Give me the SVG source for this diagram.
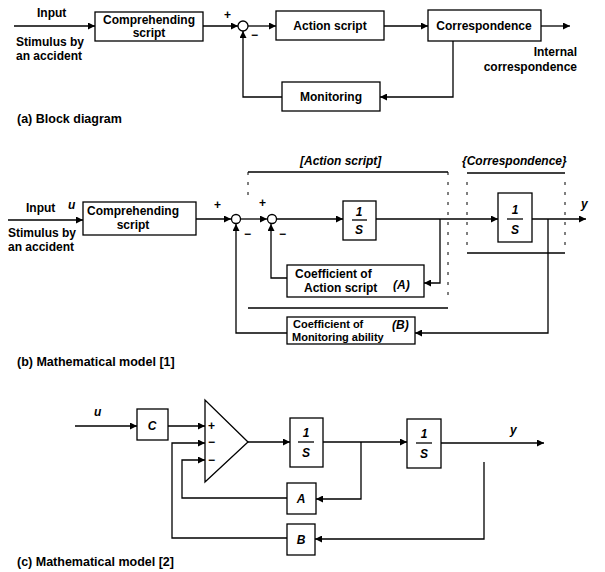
<svg xmlns="http://www.w3.org/2000/svg" width="605" height="572" viewBox="0 0 605 572">
  <defs>
    <marker id="arr" viewBox="0 0 10 10" refX="10" refY="5" markerWidth="9" markerHeight="7" markerUnits="userSpaceOnUse" orient="auto">
      <path d="M0,0 L10,5 L0,10 Z" fill="#000"/>
    </marker>
    <style>
      text { font-family: "Liberation Sans", Arial, sans-serif; font-weight: bold; fill: #000; }
      .t { font-size: 12px; }
      .s { font-size: 11px; }
      .cap { font-size: 12.5px; }
      .it { font-style: italic; }
      .box { fill: #fff; stroke: #000; stroke-width: 1.3; }
      .ln { fill: none; stroke: #000; stroke-width: 1.3; }
      .dash { fill: none; stroke: #000; stroke-width: 1; stroke-dasharray: 3 7; }
      .sum { fill: #fff; stroke: #000; stroke-width: 1.3; }
    </style>
  </defs>

  <!-- ===== (a) block diagram ===== -->
  <g id="a-labels">
    <text class="t" x="37" y="17">Input</text>
    <text class="t" x="16" y="46">Stimulus by</text>
    <text class="t" x="16" y="60">an accident</text>
    <text class="t" x="224" y="19">+</text>
    <text class="t" x="251" y="39">−</text>
    <text class="t" x="577" y="56" text-anchor="end">Internal</text>
    <text class="t" x="577" y="71" text-anchor="end">correspondence</text>
    <text class="cap" x="17" y="123">(a) Block diagram</text>
  </g>
  <g id="a-comprehending">
    <rect class="box" x="95" y="12" width="108" height="29"/>
    <text class="t" x="149" y="24" text-anchor="middle">Comprehending</text>
    <text class="t" x="149" y="37" text-anchor="middle">script</text>
  </g>
  <g id="a-sum">
    <circle class="sum" cx="243" cy="26" r="5"/>
  </g>
  <g id="a-action">
    <rect class="box" x="276" y="11" width="108" height="29"/>
    <text class="t" x="330" y="30" text-anchor="middle">Action script</text>
  </g>
  <g id="a-correspondence">
    <rect class="box" x="428" y="10" width="113" height="31"/>
    <text class="t" x="484" y="30" text-anchor="middle">Correspondence</text>
  </g>
  <g id="a-monitoring">
    <rect class="box" x="282" y="82" width="98" height="29"/>
    <text class="t" x="331" y="101" text-anchor="middle">Monitoring</text>
  </g>
  <g id="a-connectors">
    <line class="ln" x1="14" y1="26" x2="95" y2="26" marker-end="url(#arr)"/>
    <line class="ln" x1="203" y1="26" x2="238" y2="26" marker-end="url(#arr)"/>
    <line class="ln" x1="248" y1="26" x2="276" y2="26" marker-end="url(#arr)"/>
    <line class="ln" x1="384" y1="26" x2="428" y2="26" marker-end="url(#arr)"/>
    <line class="ln" x1="541" y1="26" x2="570" y2="26" marker-end="url(#arr)"/>
    <polyline class="ln" points="453,41 453,97 380,97" marker-end="url(#arr)"/>
    <polyline class="ln" points="282,97 243,97 243,31" marker-end="url(#arr)"/>
  </g>

  <!-- ===== (b) mathematical model [1] ===== -->
  <g id="b-regions">
    <text class="t it" x="300" y="165">[Action script]</text>
    <text class="t it" x="462" y="165">{Correspondence}</text>
    <line class="ln" x1="248" y1="172" x2="448" y2="172"/>
    <line class="dash" x1="248" y1="172" x2="248" y2="202"/>
    <line class="dash" x1="448" y1="172" x2="448" y2="300"/>
    <line class="ln" x1="248" y1="308" x2="448" y2="308"/>
    <line class="ln" x1="467" y1="173" x2="565" y2="173"/>
    <line class="dash" x1="467" y1="182" x2="467" y2="245"/>
    <line class="dash" x1="565" y1="182" x2="565" y2="245"/>
    <line class="ln" x1="467" y1="253" x2="565" y2="253"/>
  </g>
  <g id="b-labels">
    <text class="t" x="26" y="212">Input</text>
    <text class="t it" x="68" y="209">u</text>
    <text class="t" x="8" y="237">Stimulus by</text>
    <text class="t" x="8" y="251">an accident</text>
    <text class="t" x="214" y="209">+</text>
    <text class="t" x="259" y="207">+</text>
    <text class="t" x="244" y="238">−</text>
    <text class="t" x="279" y="238">−</text>
    <text class="t it" x="581" y="208">y</text>
    <text class="cap" x="17" y="366">(b) Mathematical model [1]</text>
  </g>
  <g id="b-comprehending">
    <rect class="box" x="83" y="202" width="113" height="33"/>
    <text class="t" x="133" y="215" text-anchor="middle">Comprehending</text>
    <text class="t" x="133" y="229" text-anchor="middle">script</text>
  </g>
  <g id="b-sum1">
    <circle class="sum" cx="236" cy="219" r="4.5"/>
  </g>
  <g id="b-sum2">
    <circle class="sum" cx="272" cy="219" r="4.5"/>
  </g>
  <g id="b-integrator1">
    <rect class="box" x="343" y="201" width="33" height="39"/>
    <text class="t it" x="359" y="216" text-anchor="middle" font-size="13">1</text>
    <line class="ln" x1="352" y1="220" x2="367" y2="220"/>
    <text class="t it" x="359" y="234" text-anchor="middle" font-size="13">S</text>
  </g>
  <g id="b-integrator2">
    <rect class="box" x="498" y="193" width="34" height="49"/>
    <text class="t it" x="515" y="214" text-anchor="middle" font-size="13">1</text>
    <line class="ln" x1="507" y1="219" x2="523" y2="219"/>
    <text class="t it" x="515" y="234" text-anchor="middle" font-size="13">S</text>
  </g>
  <g id="b-coefA">
    <rect class="box" x="287" y="265" width="137" height="32"/>
    <text class="t" x="295" y="278">Coefficient of</text>
    <text class="t" x="304" y="292">Action script</text>
    <text class="t it" x="393" y="289">(A)</text>
  </g>
  <g id="b-coefB">
    <rect class="box" x="287" y="317" width="128" height="27"/>
    <text class="s" x="293" y="328">Coefficient of</text>
    <text class="t it" x="392" y="329">(B)</text>
    <text class="s" x="292" y="341">Monitoring ability</text>
  </g>
  <g id="b-connectors">
    <line class="ln" x1="8" y1="220" x2="83" y2="220" marker-end="url(#arr)"/>
    <line class="ln" x1="196" y1="219" x2="231" y2="219" marker-end="url(#arr)"/>
    <line class="ln" x1="241" y1="219" x2="267" y2="219" marker-end="url(#arr)"/>
    <line class="ln" x1="277" y1="219" x2="343" y2="219" marker-end="url(#arr)"/>
    <line class="ln" x1="376" y1="219" x2="498" y2="219" marker-end="url(#arr)"/>
    <line class="ln" x1="532" y1="219" x2="586" y2="219" marker-end="url(#arr)"/>
    <polyline class="ln" points="440,219 440,283 424,283" marker-end="url(#arr)"/>
    <polyline class="ln" points="287,278 271,278 271,224" marker-end="url(#arr)"/>
    <polyline class="ln" points="548,219 548,333 415,333" marker-end="url(#arr)"/>
    <polyline class="ln" points="287,333 236,333 236,224" marker-end="url(#arr)"/>
  </g>

  <!-- ===== (c) mathematical model [2] ===== -->
  <g id="c-labels">
    <text class="t it" x="94" y="416">u</text>
    <text class="t it" x="510" y="434">y</text>
    <text class="cap" x="17" y="566">(c) Mathematical model [2]</text>
  </g>
  <g id="c-gainC">
    <rect class="box" x="137" y="409" width="31" height="31"/>
    <text class="t it" x="152" y="430" text-anchor="middle" font-size="13">C</text>
  </g>
  <g id="c-summer">
    <polygon class="box" points="205,400 205,482 248,442"/>
    <text class="t" x="208" y="430">+</text>
    <text class="t" x="208" y="446">−</text>
    <text class="t" x="208" y="464">−</text>
  </g>
  <g id="c-integrator1">
    <rect class="box" x="290" y="418" width="33" height="49"/>
    <text class="t it" x="306" y="437" text-anchor="middle" font-size="13">1</text>
    <line class="ln" x1="298" y1="442" x2="314" y2="442"/>
    <text class="t it" x="306" y="457" text-anchor="middle" font-size="13">S</text>
  </g>
  <g id="c-integrator2">
    <rect class="box" x="407" y="419" width="34" height="49"/>
    <text class="t it" x="424" y="438" text-anchor="middle" font-size="13">1</text>
    <line class="ln" x1="416" y1="443" x2="432" y2="443"/>
    <text class="t it" x="424" y="458" text-anchor="middle" font-size="13">S</text>
  </g>
  <g id="c-gainA">
    <rect class="box" x="287" y="483" width="29" height="31"/>
    <text class="t it" x="301" y="503" text-anchor="middle" font-size="13">A</text>
  </g>
  <g id="c-gainB">
    <rect class="box" x="287" y="524" width="28" height="31"/>
    <text class="t it" x="301" y="544" text-anchor="middle" font-size="13">B</text>
  </g>
  <g id="c-connectors">
    <line class="ln" x1="75" y1="426" x2="137" y2="426" marker-end="url(#arr)"/>
    <line class="ln" x1="168" y1="426" x2="205" y2="426" marker-end="url(#arr)"/>
    <line class="ln" x1="248" y1="442" x2="290" y2="442" marker-end="url(#arr)"/>
    <line class="ln" x1="323" y1="442" x2="407" y2="442" marker-end="url(#arr)"/>
    <line class="ln" x1="441" y1="443" x2="544" y2="443" marker-end="url(#arr)"/>
    <polyline class="ln" points="361,442 361,499 316,499" marker-end="url(#arr)"/>
    <polyline class="ln" points="484,462 484,539 315,539" marker-end="url(#arr)"/>
    <polyline class="ln" points="287,498 182,498 182,460 205,460" marker-end="url(#arr)"/>
    <polyline class="ln" points="287,538 172,538 172,443 205,443" marker-end="url(#arr)"/>
  </g>
</svg>
